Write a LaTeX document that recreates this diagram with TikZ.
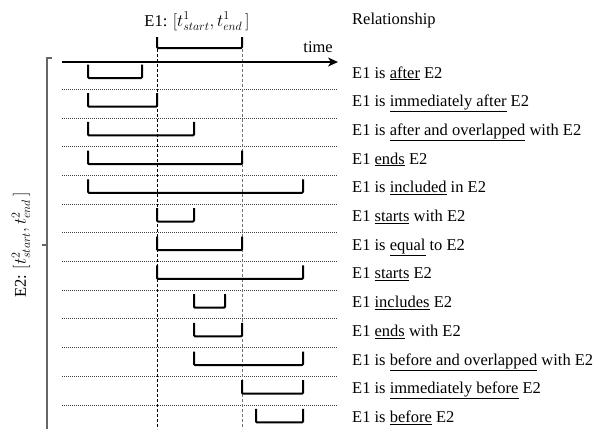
\documentclass[tikz,border=0pt]{standalone}
\usepackage{fontspec}
\setmainfont{Liberation Serif}
\usepackage{tikz}
\usetikzlibrary{arrows.meta}
\newcommand{\reltop}[1]{60.5+28.7*(#1-1)}
\newcommand{\relinterval}[3] {\draw [interval] ({#1},{\reltop{#3}+4}) -- ({#1},{\reltop{#3}+17.5}) -- ({#2},{\reltop{#3}+17.5}) -- ({#2},{\reltop{#3}+4});}
\newcommand{\relseparator}[1] {\draw [rowline] (62,{\reltop{#1}}) -- (337,{\reltop{#1}});}
\tikzset{
  interval/.style={line width=2pt, rounded corners=1pt},
  rowline/.style={line width=0.8pt, dash pattern=on 1pt off 1pt, black!75},
  txt/.style={inner sep=0pt, font=\fontsize{16.5}{20}\selectfont}
}

\begin{document}
\begin{tikzpicture}[x=1pt, y=-1pt]
\useasboundingbox (0,0) rectangle (599,429);

\foreach \i in {2,...,13} {\relseparator{\i}}

\draw [line width=1pt, dash pattern=on 3pt off 2pt] (157,49) -- (157,429);
\draw [line width=1pt, dash pattern=on 3pt off 2pt, black!55] (242,49) -- (242,429);

\draw [line width=2.2pt, -{Stealth[length=10pt, width=9pt, inset=3pt]}] (62,62) -- (338,62);
\node (timelabel) [txt, anchor=base east] at (333,52) {time};

\draw [interval] (157,37) -- (157,48) -- (242,48) -- (242,37);
\node (e1label) [txt, anchor=base] at (197,26) {E1: $[t^{1}_{start}, t^{1}_{end}\,]$};

\draw [line width=1.2pt, black!60] (52,58) -- (47,58) -- (47,429);
\draw [line width=1.2pt, black!60] (42,245) -- (47,245);
\node (e2label) [txt, rotate=90] at (21,245) {E2: $[t^{2}_{start}, t^{2}_{end}\,]$};

\node (relhead) [txt, anchor=base west] at (352,24) {Relationship};

\foreach \s/\e/\txt [count=\i] in {
  88/142/{E1 is \underline{after} E2},
  88/157/{E1 is \underline{immediately after} E2},
  88/194/{E1 is \underline{after and overlapped} with E2},
  88/242/{E1 \underline{ends} E2},
  88/303/{E1 is \underline{included} in E2},
  157/194/{E1 \underline{starts} with E2},
  157/242/{E1 is \underline{equal} to E2},
  157/303/{E1 \underline{starts} E2},
  194/225/{E1 \underline{includes} E2},
  194/242/{E1 \underline{ends} with E2},
  194/303/{E1 is \underline{before and overlapped} with E2},
  242/303/{E1 is \underline{immediately before} E2},
  256/303/{E1 is \underline{before} E2}} {
  \relinterval{\s}{\e}{\i}
  \node (rel\i) [txt, anchor=base west] at (352,{\reltop{\i}+17.5}) {\txt};
}

\end{tikzpicture}
\end{document}
